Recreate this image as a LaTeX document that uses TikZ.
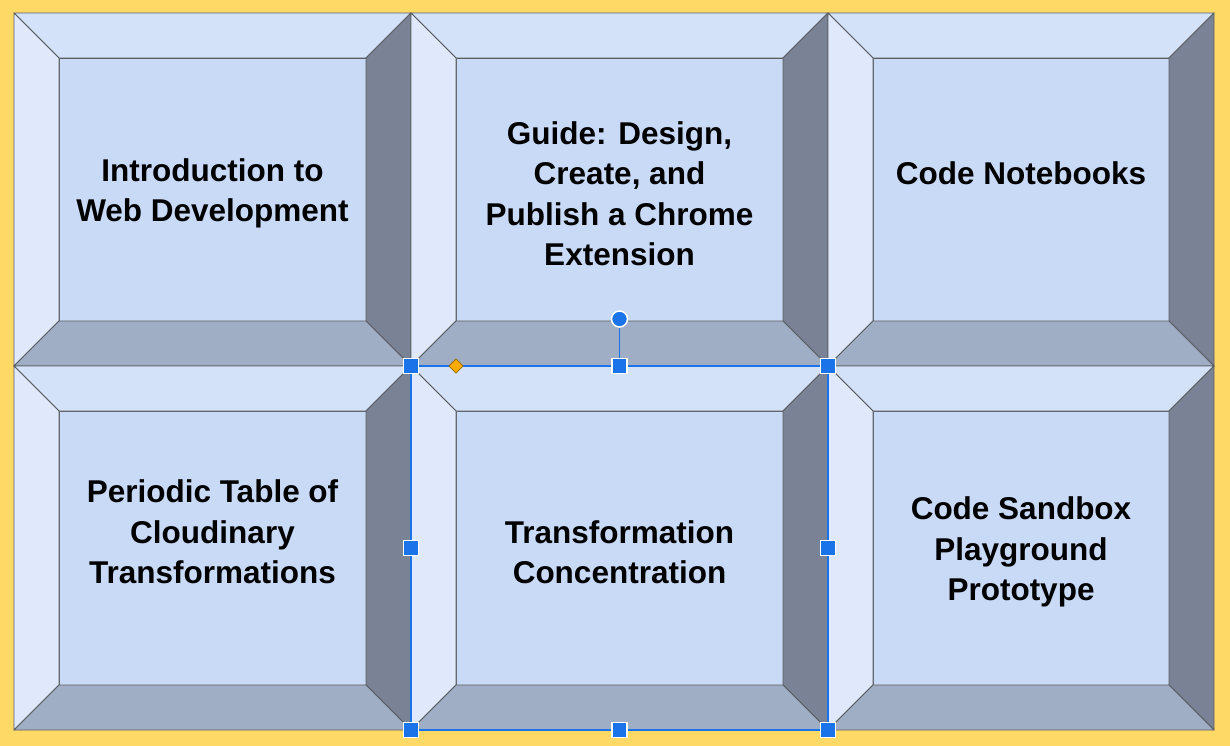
\documentclass[tikz,border=0pt]{standalone}
\usepackage{fontspec}
\setmainfont{Liberation Sans}
\usetikzlibrary{positioning}
\usepackage{xcolor}

\definecolor{slidebg}{HTML}{FFD966}
\definecolor{facefill}{HTML}{C9DAF7}
\definecolor{beveltop}{HTML}{D3E2F8}
\definecolor{bevelleft}{HTML}{E0E9FB}
\definecolor{bevelright}{HTML}{7A8295}
\definecolor{bevelbottom}{HTML}{A0AEC5}
\definecolor{edgegray}{HTML}{5A5E63}
\definecolor{selblue}{HTML}{1A73E8}
\definecolor{adjorange}{HTML}{F9AB00}
\definecolor{adjdark}{HTML}{9A6A00}

% bevelled tile: name, x0, y0, x1, y1, text
\newcommand{\beveltile}[6]{%
	\coordinate (#1nw) at (#2,#3);
	\coordinate (#1ne) at (#4,#3);
	\coordinate (#1se) at (#4,#5);
	\coordinate (#1sw) at (#2,#5);
	\node[face, minimum width=#4-#2-90, minimum height=#5-#3-90](#1) at ({(#2+#4)/2},{(#3+#5)/2}) {};
	\draw[bevel, fill=beveltop] (#1nw) -- (#1ne) -- (#1.north east) -- (#1.north west) -- cycle;
	\draw[bevel, fill=bevelleft] (#1nw) -- (#1.north west) -- (#1.south west) -- (#1sw) -- cycle;
	\draw[bevel, fill=bevelright] (#1ne) -- (#1se) -- (#1.south east) -- (#1.north east) -- cycle;
	\draw[bevel, fill=bevelbottom] (#1sw) -- (#1se) -- (#1.south east) -- (#1.south west) -- cycle;
	\node[facetext](#1text) at ([yshift=-4pt]#1.center) {#6};
}

\begin{document}
\begin{tikzpicture}[x=1pt,y=-1pt]
\tikzstyle{face} = [
	shape=rectangle,
	draw=edgegray, %border of the front face
	fill=facefill,
	line width=0.9pt,
	inner sep=0pt,
	outer sep=0pt
];
\tikzstyle{facetext} = [
	align=center,
	text=black,
	inner sep=0pt,
	font=\bfseries\fontsize{31.5}{40.5}\selectfont
];
\tikzstyle{bevel} = [draw=edgegray, line width=0.9pt, line join=round];
\tikzstyle{handle} = [
	shape=rectangle,
	fill=selblue,
	draw=white,
	line width=1.5pt,
	minimum size=15pt,
	inner sep=0pt
];
\tikzstyle{selline} = [draw=selblue, line width=1.8pt];

\useasboundingbox (0,0) rectangle (1230,746);
\fill[slidebg] (0,0) rectangle (1230,746);

%top row
\beveltile{web}{14}{13}{411}{366}{Introduction to\\Web Development}
\beveltile{guide}{411}{13}{828}{366}{Guide: Design,\\Create, and\\Publish a Chrome\\Extension}
\beveltile{notebooks}{828}{13}{1214}{366}{Code Notebooks\\\mbox{}}

%bottom row
\beveltile{periodic}{14}{366}{411}{730}{Periodic Table of\\Cloudinary\\Transformations\\\mbox{}}
\beveltile{concentration}{411}{366}{828}{730}{Transformation\\Concentration}
\beveltile{sandbox}{828}{366}{1214}{730}{Code Sandbox\\Playground\\Prototype}

%selection frame
\draw[selline] (concentrationnw) -- (concentrationne) -- (concentrationse) -- (concentrationsw) -- cycle;
\node[shape=rectangle, rotate=45, fill=adjorange, draw=adjdark, line width=0.8pt, minimum size=10pt, inner sep=0pt](adjust) at (456,366) {};

\node[handle](hnw) at (concentrationnw) {};
\node[handle](hne) at (concentrationne) {};
\node[handle](hse) at (concentrationse) {};
\node[handle](hsw) at (concentrationsw) {};
\node[handle](hn) at (619.5,366) {};
\node[handle](hs) at (619.5,730) {};
\node[handle](hw) at (411,548) {};
\node[handle](he) at (828,548) {};

\node[shape=circle, fill=selblue, draw=white, line width=1.5pt, minimum size=16pt, inner sep=0pt, above=30pt of hn](rotate) {};
\draw[draw=selblue, line width=1.5pt] (hn) -- (rotate);

\end{tikzpicture}
\end{document}
